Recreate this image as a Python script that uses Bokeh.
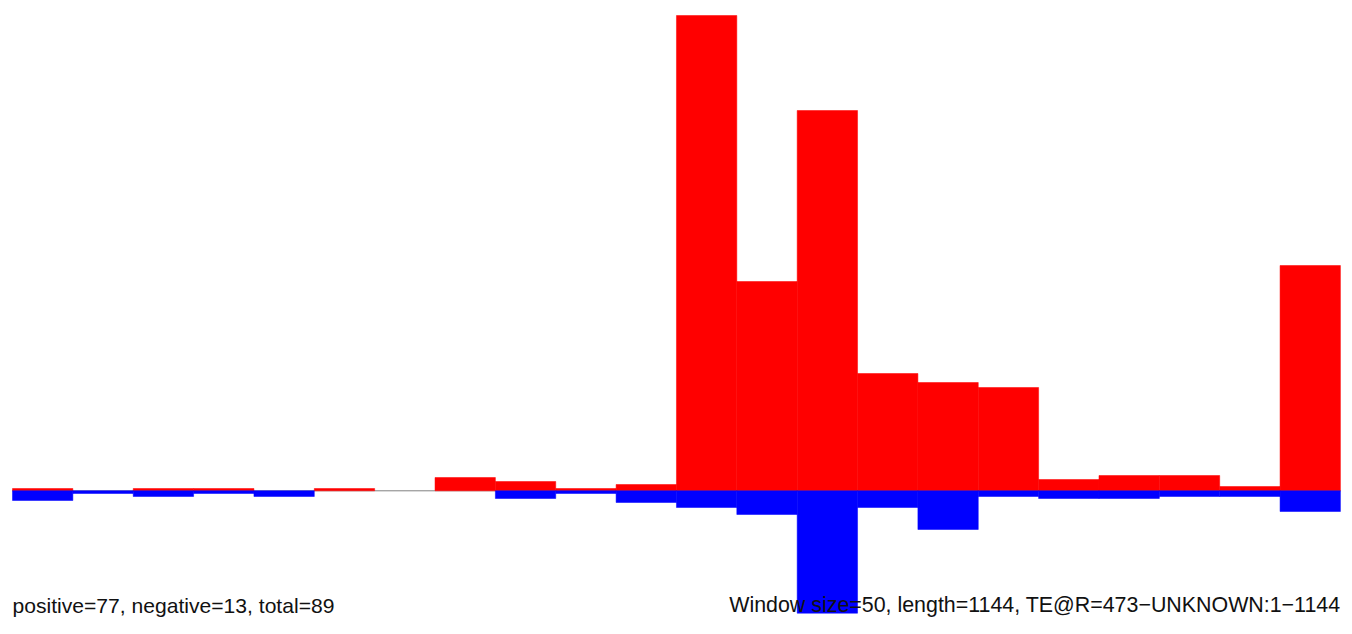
from bokeh.plotting import figure
from bokeh.models import Range1d, Label, ColumnDataSource
from bokeh.embed import file_html
from bokeh.resources import INLINE

# window index (22 windows)
windows = list(range(22))
# positive (red) values per window
positive = [2.3, 0, 2.3, 2.3, 0, 2.3, 0, 13.3, 9.3, 2.3, 6.3,
            475.3, 209.3, 380.3, 117.3, 108.3, 103.3, 11.3, 15.3, 15.3, 4.3, 225.3]
# negative (blue) values per window (magnitudes)
negative = [9.7, 2.7, 5.7, 2.7, 5.7, 0, 0, 0, 7.7, 2.7, 11.7,
            16.7, 23.7, 122.4, 16.7, 38.7, 5.7, 7.7, 7.7, 5.7, 5.7, 20.7]

left_text = "positive=77, negative=13, total=89"
right_text = "Window size=50, length=1144, TE@R=473\u2212UNKNOWN:1\u22121144"

W, H = 1348, 626
bw = 60.36
x0_px = 12.0
base_px = 490.3  # baseline distance from top in figure px

p = figure(width=W, height=H, output_backend="svg", toolbar_location=None,
           x_range=Range1d(-x0_px / bw, (W - x0_px) / bw),
           y_range=Range1d(base_px - H, base_px),
           min_border=0, min_border_left=0, min_border_right=0,
           min_border_top=0, min_border_bottom=0)
p.axis.visible = False
p.grid.visible = False
p.outline_line_color = None
p.background_fill_color = "white"
p.border_fill_color = "white"

n = len(windows)
p.segment(x0=[0], y0=[0], x1=[n], y1=[0], line_color="#808080", line_width=1)

pos_idx = [i for i in windows if positive[i] > 0]
neg_idx = [i for i in windows if negative[i] > 0]
pos_src = ColumnDataSource(dict(
    left=[windows[i] for i in pos_idx],
    right=[windows[i] + 1 for i in pos_idx],
    top=[positive[i] for i in pos_idx],
    bottom=[0] * len(pos_idx),
))
neg_src = ColumnDataSource(dict(
    left=[windows[i] for i in neg_idx],
    right=[windows[i] + 1 for i in neg_idx],
    top=[0] * len(neg_idx),
    bottom=[-negative[i] for i in neg_idx],
))
p.quad(left="left", right="right", bottom="bottom", top="top", source=pos_src,
       fill_color="#FF0000", line_color="#FF0000", line_width=0.5)
p.quad(left="left", right="right", bottom="bottom", top="top", source=neg_src,
       fill_color="#0000FF", line_color="#0000FF", line_width=0.5)

p.add_layout(Label(x=12, y=H - 604.7, x_units="screen", y_units="screen",
                   text=left_text, text_font="Liberation Sans",
                   text_font_size="21.1px", text_color="#111111",
                   text_align="left", text_baseline="alphabetic"))
p.add_layout(Label(x=1340, y=H - 604.7, x_units="screen", y_units="screen",
                   text=right_text, text_font="Liberation Sans",
                   text_font_size="21.4px", text_color="#111111",
                   text_align="right", text_baseline="alphabetic"))

open("out.html", "w").write(file_html(p, INLINE))
